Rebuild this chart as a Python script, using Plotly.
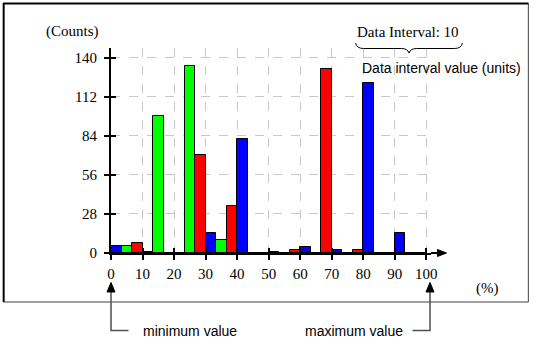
import plotly.graph_objects as go

# ---- data ----
bin_starts = [0, 10, 20, 30, 40, 50, 60, 70, 80, 90]
bin_width = 10
blue_counts = [5, 1, 0, 14, 82, 1, 4, 2, 122, 14]
green_counts = [5, 98, 134, 9, 0, 0, 0, 0, 0, 0]
red_counts = [7, 0, 70, 34, 0, 2, 132, 2, 0, 0]
x_ticks = [0, 10, 20, 30, 40, 50, 60, 70, 80, 90, 100]
y_ticks = [0, 28, 56, 84, 112, 140]
x_range = [0, 101.5]
y_range = [0, 147]

# ---- layout geometry (pixels) ----
W, H = 535, 341
L, R, T, B = 111, 431.5, 48, 253


def px_x(X):
    return (X - L) / (R - L)


def px_y(Y):
    return (B - Y) / (B - T)


centers = [b + bin_width / 2 for b in bin_starts]

fig = go.Figure()
for name, vals, col in [("blue", blue_counts, "#0000FF"),
                        ("green", green_counts, "#00FF00"),
                        ("red", red_counts, "#FF0000")]:
    fig.add_trace(go.Bar(x=centers, y=vals, name=name,
                         marker=dict(color=col, line=dict(color="black", width=1)),
                         hoverinfo="skip"))

# invisible trace for overlay axes (inside ticks)
fig.add_trace(go.Scatter(x=[None], y=[None], xaxis="x2", yaxis="y2",
                         showlegend=False, hoverinfo="skip"))

serif = "Liberation Serif"
sans = "Liberation Sans"

axis_common = dict(showline=True, linecolor="black", linewidth=2,
                   ticks="outside", ticklen=5, tickwidth=1.5, tickcolor="black",
                   showgrid=True, gridcolor="#c8c8c8", griddash="dash", gridwidth=1,
                   zeroline=False, fixedrange=True,
                   tickfont=dict(family=serif, size=15, color="black"))

fig.update_layout(
    width=W, height=H,
    margin=dict(l=L, r=W - R, t=T, b=H - B, pad=0),
    plot_bgcolor="white", paper_bgcolor="white",
    barmode="group", bargap=0, bargroupgap=0,
    showlegend=False,
    xaxis=dict(range=x_range, tickvals=x_ticks, ticktext=[str(v) for v in x_ticks],
               ticklabelstandoff=1, **axis_common),
    yaxis=dict(range=y_range, tickvals=y_ticks, ticktext=[str(v) for v in y_ticks],
               ticklabelstandoff=4, **axis_common),
    xaxis2=dict(overlaying="x", anchor="y2", side="bottom", range=x_range, tickvals=x_ticks,
                ticks="inside", ticklen=5, tickwidth=1.5, tickcolor="black",
                showticklabels=False, showgrid=False, showline=False, zeroline=False,
                fixedrange=True),
    yaxis2=dict(overlaying="y", anchor="x2", side="left", range=y_range, tickvals=y_ticks,
                ticks="inside", ticklen=5, tickwidth=1.5, tickcolor="black",
                showticklabels=False, showgrid=False, showline=False, zeroline=False,
                fixedrange=True),
)

shapes = []


def line(x0, y0, x1, y1, color="black", width=1):
    shapes.append(dict(type="line", xref="paper", yref="paper",
                       x0=px_x(x0), y0=px_y(y0), x1=px_x(x1), y1=px_y(y1),
                       line=dict(color=color, width=width)))


def path(pts, fill=None, color="black", width=1, closed=False):
    d = "M " + " L ".join(f"{px_x(a):.5f},{px_y(b):.5f}" for a, b in pts)
    if closed:
        d += " Z"
    s = dict(type="path", xref="paper", yref="paper", path=d,
             line=dict(color=color, width=width))
    if fill:
        s["fillcolor"] = fill
    shapes.append(s)


# outer frame
line(3, 3.5, 529, 3.5, "black", 2)
line(3.5, 3, 3.5, 302, "black", 2)
line(3, 302, 529, 302, "#404040", 1)
line(529, 3, 529, 302, "#404040", 1)

# x-axis extension with arrow
line(R, B, 440, B, "black", 2)
path([(438, 249.5), (447, B), (438, 256.5)], fill="black", closed=True)

# brace under "Data Interval"
brace = ("M {a},{b} Q {c},{d} {e},{d} L {f},{d} Q {g},{d} {h},{i} Q {j},{d} {k},{d} "
         "L {l},{d} Q {m},{d} {n},{b}")
d = brace.format(
    a=px_x(356), b=px_y(43), c=px_x(357), d=px_y(48.5), e=px_x(364),
    f=px_x(402), g=px_x(408), h=px_x(409.5), i=px_y(53),
    j=px_x(411), k=px_x(417), l=px_x(455), m=px_x(462), n=px_x(463))
shapes.append(dict(type="path", xref="paper", yref="paper", path=d,
                   line=dict(color="black", width=1)))

# minimum value pointer
path([(111, 291), (111, 330.5), (128.5, 330.5)], color="#505050", width=1.5)
path([(107, 292), (111, 282.5), (115, 292)], fill="black", closed=True)
# maximum value pointer
path([(413, 330.5), (430.5, 330.5), (430.5, 291)], color="#505050", width=1.5)
path([(426.5, 292), (430.5, 282.5), (434.5, 292)], fill="black", closed=True)

fig.update_layout(shapes=shapes)


def ann(text, X, Y, family, size, xanchor="center"):
    fig.add_annotation(text=text, xref="paper", yref="paper", x=px_x(X), y=px_y(Y),
                       xanchor=xanchor, yanchor="middle", showarrow=False,
                       font=dict(family=family, size=size, color="black"))


ann("(Counts)", 72, 32, serif, 15)
ann("Data Interval: 10", 408.5, 32, serif, 15)
ann("Data interval value (units)", 360, 68, sans, 14, "left")
ann("(%)", 488, 288, serif, 15)
ann("minimum value", 141, 330.5, sans, 14, "left")
ann("maximum value", 405.5, 330.5, sans, 14, "right")

fig.write_html("out.html")
